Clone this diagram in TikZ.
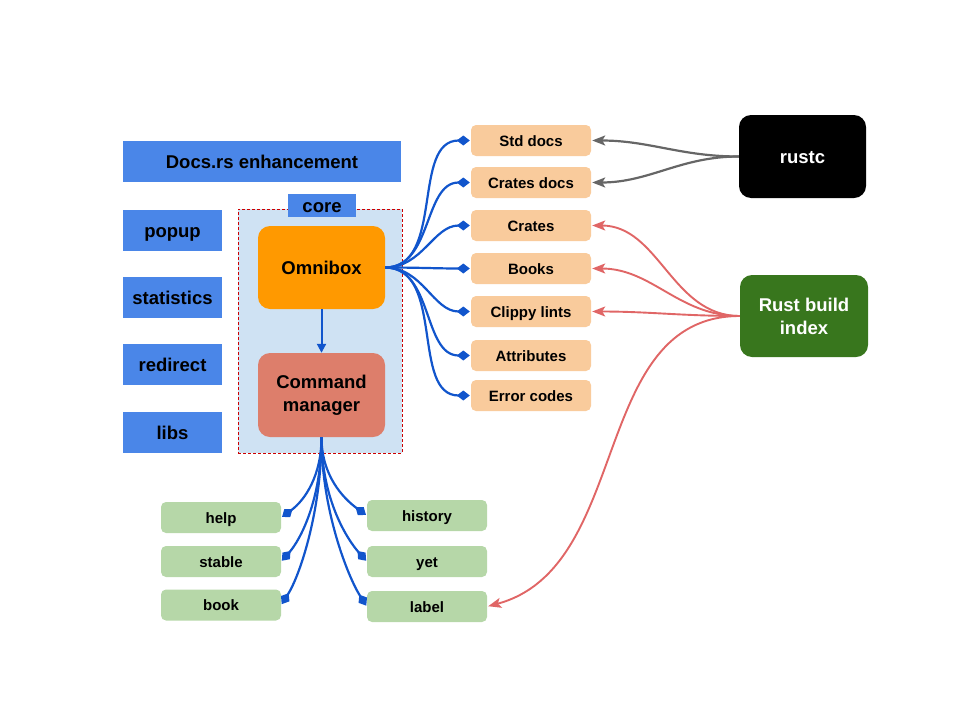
\documentclass[tikz,border=0pt]{standalone}
\usepackage{fontspec}
\setmainfont{Liberation Sans}
\usetikzlibrary{arrows.meta}
\definecolor{cblue}{HTML}{4A86E8}
\definecolor{ccore}{HTML}{CFE2F3}
\definecolor{corange}{HTML}{FF9900}
\definecolor{ccmd}{HTML}{DD7E6B}
\definecolor{clight}{HTML}{F9CB9C}
\definecolor{cgreen}{HTML}{B6D7A8}
\definecolor{cdark}{HTML}{38761D}
\definecolor{cline}{HTML}{1155CC}
\definecolor{cred}{HTML}{E06666}
\definecolor{cgray}{HTML}{666666}
\definecolor{cdash}{HTML}{CC0000}
\tikzset{
  bigline/.style={text height=17.2pt, text depth=3.6pt},
  smallline/.style={text height=13.9pt, text depth=2.9pt},
  bluebox/.style={fill=cblue, text=black, inner sep=0pt, bigline, font=\fontsize{18.5}{22}\selectfont\bfseries},
  bigbox/.style={rounded corners=12pt, inner sep=0pt, minimum width=127pt, minimum height=83pt, align=center, font=\fontsize{18.5}{23}\selectfont\bfseries},
  smallbox/.style={rounded corners=5pt, inner sep=0pt, minimum width=120pt, minimum height=31pt, smallline, font=\fontsize{15}{18}\selectfont\bfseries},
  dlink/.style={draw=cline, line width=2.2pt, shorten >=1pt, -{Diamond[length=13pt,width=10pt]}},
  rlink/.style={draw=cred, line width=1.9pt, shorten >=1pt, -{Stealth[length=13pt,width=10pt,inset=3pt]}},
  glink/.style={draw=cgray, line width=2.2pt, shorten >=1pt, -{Stealth[length=13pt,width=10pt,inset=3pt]}},
}
\begin{document}
\begin{tikzpicture}[x=1pt,y=1pt]
\useasboundingbox (0,0) rectangle (960,-720);
% left blue boxes
\node[bluebox, minimum width=278pt, minimum height=41pt] (docs) at (262,-161.5) {Docs.rs enhancement};
\node[bluebox, minimum width=99pt, minimum height=41pt] (popup) at (172.5,-230.5) {popup};
\node[bluebox, minimum width=99pt, minimum height=41pt] (stats) at (172.5,-297.5) {statistics};
\node[bluebox, minimum width=99pt, minimum height=41pt] (redirect) at (172.5,-364.5) {redirect};
\node[bluebox, minimum width=99pt, minimum height=41pt] (libs) at (172.5,-432.5) {libs};
% core frame
\node[fill=ccore, draw=cdash, line width=1pt, dash pattern=on 3pt off 2pt, minimum width=164pt, minimum height=244pt, inner sep=0pt] (coreframe) at (320,-331) {};
\node[bluebox, minimum width=68pt, minimum height=23pt] (corelabel) at (322,-205.5) {core};
\node[bigbox, fill=corange, bigline] (omni) at (321.5,-267.5) {Omnibox};
\node[bigbox, fill=ccmd, minimum height=84pt] (cmd) at (321.5,-395) {Command\\manager};
\draw[draw=cline, line width=2pt, -{Triangle[length=9pt,width=9pt]}] (omni) -- (cmd);
% orange targets
\node[smallbox, fill=clight] (std) at (531,-140.5) {Std docs};
\node[smallbox, fill=clight] (cdocs) at (531,-182.5) {Crates docs};
\node[smallbox, fill=clight] (crates) at (531,-225.5) {Crates};
\node[smallbox, fill=clight] (books) at (531,-268.5) {Books};
\node[smallbox, fill=clight] (clippy) at (531,-311.5) {Clippy lints};
\node[smallbox, fill=clight] (attr) at (531,-355.5) {Attributes};
\node[smallbox, fill=clight] (err) at (531,-395.5) {Error codes};
% sources
\node[bigbox, fill=black, text=white, bigline] (rustc) at (802.5,-156.5) {rustc};
\node[bigbox, fill=cdark, text=white, minimum width=128pt, minimum height=82pt] (rbi) at (804,-316) {Rust build\\index};
% green targets
\node[smallbox, fill=cgreen] (help) at (221,-517.5) {help};
\node[smallbox, fill=cgreen] (stable) at (221,-561.5) {stable};
\node[smallbox, fill=cgreen] (book) at (221,-605) {book};
\node[smallbox, fill=cgreen] (history) at (427,-515.5) {history};
\node[smallbox, fill=cgreen] (yet) at (427,-561.5) {yet};
\node[smallbox, fill=cgreen] (label) at (427,-606.5) {label};
% omnibox fan
\foreach \t in {std,cdocs,crates,books,clippy,attr,err}
  \draw[dlink] (omni.east) to[out=0,in=180] (\t.west);
% command manager fan
\draw[dlink] (cmd.south) .. controls +(0,-38) and +(24,17.5) .. (help.east);
\draw[dlink] (cmd.south) .. controls +(0,-63) and +(19,21.5) .. (stable.east);
\draw[dlink] (cmd.south) .. controls +(0,-73) and +(19,30) .. (book.east);
\draw[dlink] (cmd.south) .. controls +(0,-38) and +(-24,17.5) .. (history.west);
\draw[dlink] (cmd.south) .. controls +(0,-63) and +(-19,21.5) .. (yet.west);
\draw[dlink] (cmd.south) .. controls +(0,-73) and +(-19,30) .. (label.west);
% rustc
\draw[glink] (rustc.west) to[out=180,in=0] (std.east);
\draw[glink] (rustc.west) to[out=180,in=0] (cdocs.east);
% rust build index
\draw[rlink] (rbi.west) to[out=180,in=0] (crates.east);
\draw[rlink] (rbi.west) to[out=180,in=0] (books.east);
\draw[rlink] (rbi.west) to[out=180,in=0] (clippy.east);
\draw[rlink] (rbi.west) to[out=180,in=15] (label.east);
\end{tikzpicture}
\end{document}
